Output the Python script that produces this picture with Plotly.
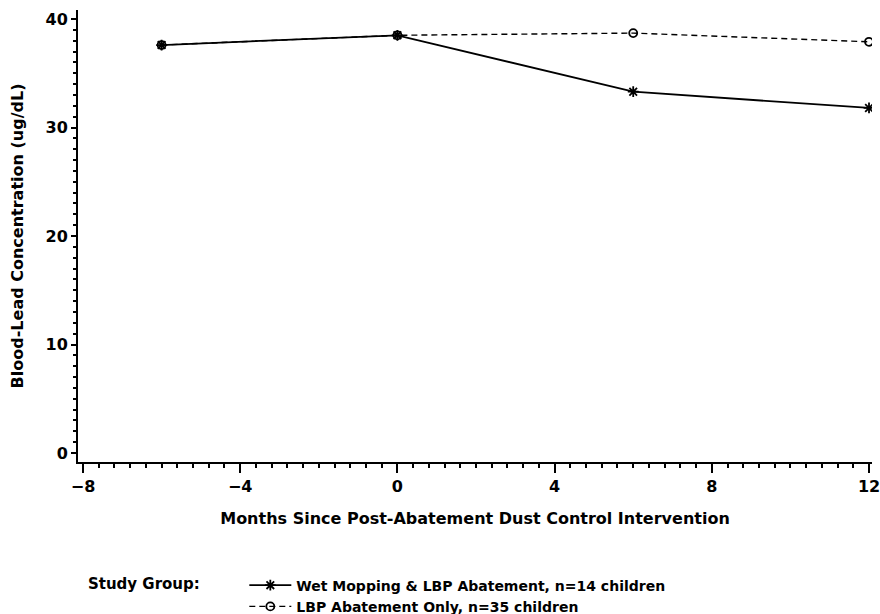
import plotly.graph_objects as go

months = [-6, 0, 6, 12]
wet_mopping = [37.6, 38.5, 33.3, 31.8]
lbp_only = [37.6, 38.5, 38.7, 37.9]

x_ticks = [-8, -4, 0, 4, 8, 12]
y_ticks = [0, 10, 20, 30, 40]

FONT = "DejaVu Sans"

fig = go.Figure()
fig.add_trace(go.Scatter(
    x=months, y=wet_mopping, mode="lines+markers",
    name="Wet Mopping & LBP Abatement, n=14 children",
    line=dict(color="black", width=1.8, dash="solid"),
    marker=dict(symbol="asterisk-open", size=9, color="black", line=dict(width=1.8, color="black")),
))
fig.add_trace(go.Scatter(
    x=months, y=lbp_only, mode="lines+markers",
    name="LBP Abatement Only, n=35 children",
    line=dict(color="black", width=1.4, dash="6px,4px"),
    marker=dict(symbol="circle-open", size=8, color="black", line=dict(width=1.8, color="black")),
))

fig.update_layout(
    width=880, height=614,
    margin=dict(l=78, r=8, t=10, b=152, autoexpand=False),
    paper_bgcolor="white", plot_bgcolor="white",
    font=dict(family=FONT, size=16, color="black", weight="bold"),
    showlegend=True,
    legend=dict(
        x=0.01, y=-0.238, xanchor="left", yanchor="top",
        orientation="v",
        title=dict(text="Study Group:" + "\u00a0" * 7, side="left",
                   font=dict(family=FONT, size=15, weight="bold")),
        font=dict(family=FONT, size=14, weight="bold"),
        tracegroupgap=0, itemwidth=42,
        bgcolor="rgba(0,0,0,0)",
    ),
    xaxis=dict(
        range=[-8.127, 12.076], tickvals=x_ticks,
        showline=True, linecolor="black", linewidth=2,
        ticks="outside", ticklen=9, tickwidth=2, tickcolor="black",
        minor=dict(dtick=0.4, ticks="outside", ticklen=4, tickwidth=1.5, tickcolor="black"),
        showgrid=False, zeroline=False,
        ticklabeloverflow="allow",
        tickfont=dict(family=FONT, size=16, weight="bold"),
        title=dict(text="Months Since Post-Abatement Dust Control Intervention",
                   font=dict(family=FONT, size=16, weight="bold"), standoff=18),
    ),
    yaxis=dict(
        range=[-0.83, 40.83], tickvals=y_ticks,
        showline=True, linecolor="black", linewidth=2,
        ticks="outside", ticklen=5, tickwidth=2, tickcolor="black",
        minor=dict(dtick=1, ticks="outside", ticklen=3, tickwidth=1.5, tickcolor="black"),
        showgrid=False, zeroline=False,
        tickfont=dict(family=FONT, size=16, weight="bold"),
        title=dict(text="Blood-Lead Concentration (ug/dL)",
                   font=dict(family=FONT, size=16, weight="bold"), standoff=18),
    ),
)

fig.write_html("out.html", config={"displayModeBar": False},
               post_script="document.body.style.margin='0';")
